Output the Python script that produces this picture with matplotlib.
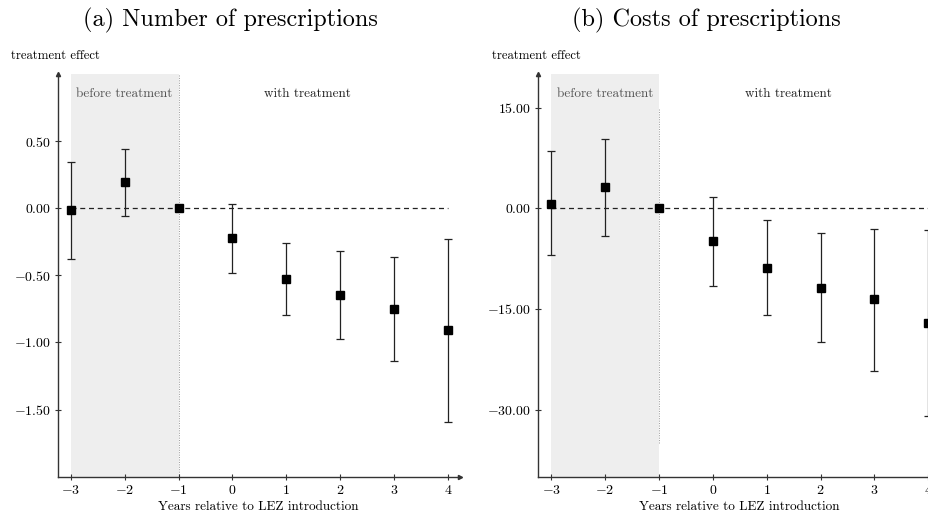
import matplotlib.pyplot as plt
import numpy as np
from matplotlib.ticker import FixedLocator, FuncFormatter

plt.rcParams.update(
    {
        "font.family": ["cmr10", "DejaVu Serif"],
        "mathtext.fontset": "cm",
        "axes.formatter.use_mathtext": True,
    }
)

# event-study estimates
years = [-3, -2, -1, 0, 1, 2, 3, 4]

num_coef = [-0.015, 0.195, 0.0, -0.225, -0.526, -0.647, -0.751, -0.909]
num_lo = [-0.376, -0.055, 0.0, -0.482, -0.793, -0.973, -1.139, -1.590]
num_hi = [0.345, 0.441, 0.0, 0.034, -0.262, -0.321, -0.366, -0.232]
num_yticks = [0.5, 0.0, -0.5, -1.0, -1.5]

cost_coef = [0.70, 3.13, 0.0, -4.92, -8.84, -11.82, -13.60, -17.08]
cost_lo = [-6.90, -4.07, 0.0, -11.57, -15.95, -20.00, -24.20, -30.94]
cost_hi = [8.45, 10.34, 0.0, 1.70, -1.79, -3.67, -3.07, -3.22]
cost_yticks = [15.0, 0.0, -15.0, -30.0]

xmin, xmax = -3.245, 4.22

panels = [
    ("(a) Number of prescriptions", num_coef, num_lo, num_hi, num_yticks,
     (-2.0, 1.0), None, 4.0),
    ("(b) Costs of prescriptions", cost_coef, cost_lo, cost_hi, cost_yticks,
     (-40.0, 20.0), (-35.0, 15.0), xmax),
]

fig = plt.figure(figsize=(9.29, 5.19), dpi=100)
positions = [[0.062, 0.0815, 0.433, 0.776], [0.579, 0.0815, 0.433, 0.776]]
title_x = [0.2476, 0.7605]

axis_col = "#333333"

for pos, tx, (title, coef, lo, hi, yt, ylim, vline, zero_end) in zip(positions, title_x, panels):
    ax = fig.add_axes(pos)
    coef = np.array(coef)
    err = np.vstack([coef - np.array(lo), np.array(hi) - coef])
    ymin, ymax = ylim

    ax.axvspan(-3, -1, color="#eeeeee", zorder=0, lw=0)
    vy = vline if vline is not None else ylim
    ax.plot([-1, -1], vy, ls=(0, (1, 1.5)), color="#999999", lw=0.7, zorder=1)
    ax.plot([-3, zero_end], [0, 0], ls=(0, (4, 3)), color="#222222", lw=0.9, zorder=2)

    mask = np.array(years) != -1
    ax.errorbar(
        np.array(years)[mask], coef[mask], yerr=err[:, mask], fmt="none",
        ecolor="#222222", elinewidth=0.9, capsize=3, capthick=0.9, zorder=3,
    )
    ax.plot(years, coef, "s", color="black", ms=6, zorder=4)

    span = ymax - ymin
    ax.text(-2, ymax - 0.05 * span, "before treatment", ha="center", va="center",
            fontsize=9.5, color="#555555")
    ax.text(1.4, ymax - 0.05 * span, "with treatment", ha="center", va="center",
            fontsize=9.5, color="#222222")

    ax.set_xlim(xmin, xmax)
    ax.set_ylim(ymin, ymax)
    for s in ["top", "right"]:
        ax.spines[s].set_visible(False)
    for s in ["left", "bottom"]:
        ax.spines[s].set_color(axis_col)
        ax.spines[s].set_linewidth(1.0)
    ax.plot(1, 0, ">", color=axis_col, ms=3, transform=ax.transAxes, clip_on=False)
    ax.plot(0, 1, "^", color=axis_col, ms=3, transform=ax.transAxes, clip_on=False)

    ax.xaxis.set_major_locator(FixedLocator(years))
    ax.xaxis.set_major_formatter(FuncFormatter(lambda v, p: f"${int(round(v))}$"))
    ax.yaxis.set_major_locator(FixedLocator(yt))
    ax.yaxis.set_major_formatter(FuncFormatter(lambda v, p: f"${v:.2f}$"))
    ax.tick_params(direction="inout", length=4, width=0.8, color=axis_col,
                   labelsize=10, pad=3)
    ax.set_xlabel("Years relative to LEZ introduction", fontsize=9.5, labelpad=3)
    ax.text(-0.115, 1.045, "treatment effect", transform=ax.transAxes,
            fontsize=9.2, ha="left", va="center")
    fig.text(tx, 0.9615, title, ha="center", va="center", fontsize=17.5)

fig.savefig("out.png", dpi=100)
